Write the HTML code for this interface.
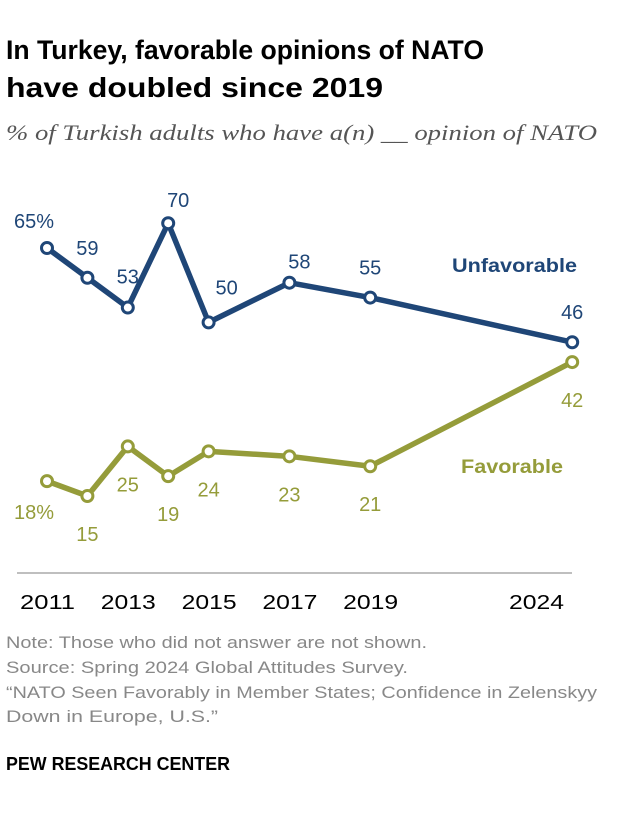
<!DOCTYPE html>
<html><head><meta charset="utf-8"><style>
body{margin:0;background:#fff;width:620px;height:808px;overflow:hidden;font-family:"Liberation Sans",sans-serif}
</style></head><body>
<svg width="620" height="808">
<text x="6" y="59" font-size="27" font-weight="bold" fill="#000" textLength="478" lengthAdjust="spacingAndGlyphs">In Turkey, favorable opinions of NATO</text>
<text x="6" y="97" font-size="28" font-weight="bold" fill="#000" textLength="377" lengthAdjust="spacingAndGlyphs">have doubled since 2019</text>
<text x="6" y="140" font-size="22" font-style="italic" font-family="Liberation Serif,serif" fill="#555" textLength="591" lengthAdjust="spacingAndGlyphs">% of Turkish adults who have a(n) __ opinion of NATO</text>
<line x1="17" y1="573" x2="572" y2="573" stroke="#aaa" stroke-width="1.5"/>
<g id="xt"></g><g id="ser"></g>
<text x="452" y="272" font-size="19" font-weight="bold" fill="#1f4677" textLength="125" lengthAdjust="spacingAndGlyphs">Unfavorable</text>
<text x="461" y="473" font-size="19" font-weight="bold" fill="#959c3a" textLength="102" lengthAdjust="spacingAndGlyphs">Favorable</text>
<g font-size="17" fill="#888">
<text x="6" y="648" textLength="421" lengthAdjust="spacingAndGlyphs">Note: Those who did not answer are not shown.</text>
<text x="6" y="673" textLength="402" lengthAdjust="spacingAndGlyphs">Source: Spring 2024 Global Attitudes Survey.</text>
<text x="6" y="698" textLength="591" lengthAdjust="spacingAndGlyphs">“NATO Seen Favorably in Member States; Confidence in Zelenskyy</text>
<text x="6" y="722" textLength="212" lengthAdjust="spacingAndGlyphs">Down in Europe, U.S.”</text>
</g>
<text x="6" y="770" font-size="18" font-weight="bold" fill="#000" textLength="224" lengthAdjust="spacingAndGlyphs">PEW RESEARCH CENTER</text>
</svg>
<script>
const years=[2011,2012,2013,2014,2015,2017,2019,2024];
const tickYears=[2011,2013,2015,2017,2019,2024];
const unfav=[65,59,53,70,50,58,55,46];
const fav=[18,15,25,19,24,23,21,42];
const unfavLabels=["65%","59","53","70","50","58","55","46"];
const favLabels=["18%","15","25","19","24","23","21","42"];
const X=y=>47+(y-2011)*40.4;
const Y=v=>248-(v-65)*4.96;
const NS="http://www.w3.org/2000/svg";
function mk(t,a,p){const e=document.createElementNS(NS,t);for(const k in a)e.setAttribute(k,a[k]);p.appendChild(e);return e;}
const xt=document.getElementById('xt'),ser=document.getElementById('ser');
tickYears.forEach(y=>{const cx=y===2024?536:X(y);
const t=mk('text',{x:cx-27,y:609,'font-size':20,fill:'#000',textLength:55,lengthAdjust:'spacingAndGlyphs'},xt);t.textContent=y;

});
const unfOff=[[-13,-27],[0,-30],[0,-31],[10,-23],[18,-35],[10,-21],[0,-30],[0,-30]];
const favOff=[[-13,31],[0,38],[0,38],[0,38],[0,38],[0,38],[0,38],[0,38]];
function series(vals,labels,col,offs,nm){
const pl=mk('polyline',{points:vals.map((v,i)=>X(years[i])+','+Y(v)).join(' '),fill:'none',stroke:col,'stroke-width':5.5,'stroke-linejoin':'round'},ser);


vals.forEach((v,i)=>{const c=mk('circle',{cx:X(years[i]),cy:Y(v),r:5.5,fill:'#fff',stroke:col,'stroke-width':3},ser);


const t=mk('text',{x:X(years[i])+offs[i][0],y:Y(v)+offs[i][1]+7,'font-size':20,'text-anchor':'middle',fill:col},ser);t.textContent=labels[i];

});}
series(unfav,unfavLabels,'#1f4677',unfOff,'unfavorable');
series(fav,favLabels,'#959c3a',favOff,'favorable');
</script>
</body></html>
